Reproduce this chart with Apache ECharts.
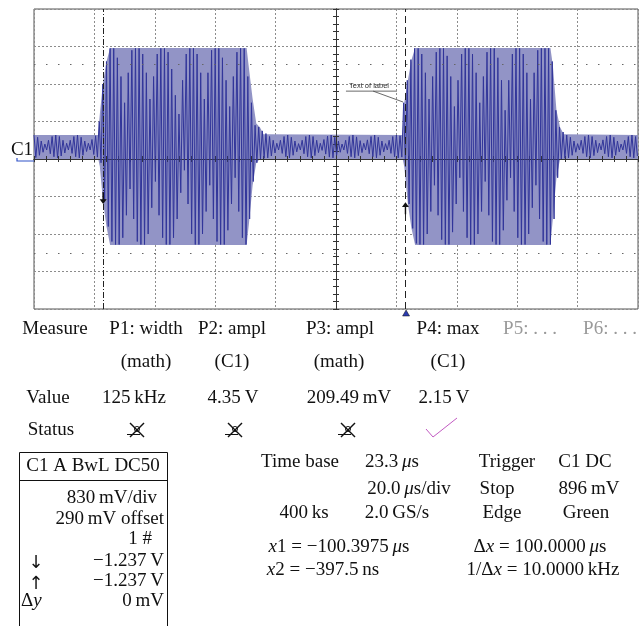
<!DOCTYPE html>
<html>
<head>
<meta charset="utf-8">
<script src="https://cdn.jsdelivr.net/npm/echarts@6/dist/echarts.min.js"></script>
<style>
html, body { margin: 0; padding: 0; background: #fff; }
#main { width: 639px; height: 626px; }
</style>
</head>
<body>
<div id="main"></div>
<script>
// time in µs (20 µs/div), amplitude in divisions
var startTime = -100;
var sampleStep = 0.6;   // half a carrier cycle

// peaks: top, bottom, top, bottom ... per carrier cycle
var quiet1 = [0.64,0.04, 0.58,0.1, 0.48,0.18, 0.4,0.24, 0.5,0.14, 0.6,0.06, 0.64,0.03, 0.6,0.08, 0.5,0.16,
    0.42,0.24, 0.5,0.15, 0.6,0.06, 0.64,0.03, 0.58,0.1, 0.48,0.2, 0.42,0.24, 0.52,0.12, 0.62,0.05];
var burst1 = [1.0,-0.1, 2.0,-1.1, 2.6,-1.8, 2.95,-2.2, 2.95,-2.28, 2.7,-2.28, 2.2,-2.1, 1.5,-1.5, 2.3,-0.8,
    2.9,-1.6, 2.95,-2.2, 2.95,-2.28, 2.8,-2.28, 2.3,-2.0, 1.6,-1.3, 2.2,-0.6, 2.8,-1.5, 2.95,-2.1, 2.95,-2.28,
    2.85,-2.28, 2.4,-2.1, 1.7,-1.6, 1.2,-0.9, 2.1,-0.3, 2.8,-1.2, 2.95,-2.0, 2.95,-2.28, 2.8,-2.28, 2.3,-2.0,
    1.6,-1.4, 2.3,-0.7, 2.9,-1.6, 2.95,-2.2, 2.95,-2.28, 2.7,-2.28, 2.1,-1.9, 1.4,-1.2, 2.2,-0.5, 2.85,-1.4,
    2.95,-2.1, 2.95,-2.28, 2.2,-1.6, 1.5,-0.6, 0.9,-0.1];
var quiet2 = [0.85,0.0, 0.75,0.02, 0.68,0.03, 0.6,0.08, 0.5,0.16, 0.42,0.24, 0.5,0.15, 0.6,0.06, 0.64,0.03,
    0.58,0.1, 0.48,0.19, 0.41,0.24, 0.5,0.14, 0.6,0.06, 0.64,0.03, 0.6,0.09, 0.5,0.17, 0.42,0.23, 0.52,0.13,
    0.61,0.05, 0.64,0.03, 0.58,0.1, 0.48,0.18, 0.4,0.24, 0.5,0.15, 0.6,0.06, 0.64,0.03, 0.59,0.09, 0.49,0.17,
    0.42,0.24, 0.51,0.14, 0.6,0.06, 0.64,0.03, 0.58,0.1, 0.48,0.19, 0.41,0.24, 0.5,0.15, 0.6,0.06, 0.64,0.03,
    0.62,0.05];
var burst2 = [1.5,-0.2, 2.1,-1.2, 2.65,-1.85, 2.95,-2.25, 2.95,-2.28, 2.8,-2.28, 2.3,-2.0, 1.6,-1.4, 2.2,-0.7,
    2.85,-1.5, 2.95,-2.15, 2.95,-2.28, 2.75,-2.28, 2.2,-1.95, 1.4,-1.2, 2.1,-0.5, 2.8,-1.4, 2.95,-2.1, 2.95,-2.28,
    2.8,-2.28, 2.3,-2.0, 1.5,-1.4, 2.2,-0.6, 2.85,-1.5, 2.95,-2.2, 2.95,-2.28, 2.7,-2.28, 2.1,-1.9, 1.3,-1.1,
    2.1,-0.5, 2.8,-1.4, 2.95,-2.1, 2.95,-2.28, 2.8,-2.28, 2.3,-2.0, 1.6,-1.3, 2.3,-0.7, 2.9,-1.6, 2.95,-2.2,
    2.95,-2.28, 2.95,-2.28, 2.6,-1.6, 1.3,-0.5];
var quiet3 = [0.85,0.0, 0.72,0.02, 0.64,0.03, 0.58,0.1, 0.48,0.18, 0.41,0.24, 0.5,0.15, 0.6,0.06, 0.64,0.03,
    0.6,0.09, 0.5,0.17, 0.42,0.24, 0.51,0.14, 0.6,0.06, 0.64,0.03, 0.58,0.1, 0.48,0.19, 0.4,0.24, 0.5,0.15,
    0.6,0.06, 0.64,0.03, 0.6,0.08];

// outer envelope of the trace (the light filled band)
var envTime = [-100, -78.8, -78.2, -77.2, -76.0, -74.8, -29.6, -28.8, -27.6, -26.4, -25.2, -24.0,
    22.0, 22.6, 23.8, 25.0, 26.2, 71.0, 71.8, 73.0, 74.2, 75.4, 100];
var envTop = [0.64, 0.64, 1.2, 2.0, 2.6, 2.96, 2.96, 2.4, 1.6, 0.95, 0.85, 0.66,
    0.64, 1.5, 2.1, 2.65, 2.96, 2.96, 2.5, 1.3, 0.85, 0.66, 0.64];
var envBottom = [0.03, 0.03, -0.2, -1.1, -1.8, -2.29, -2.29, -1.7, -0.7, -0.1, 0.0, 0.03,
    0.03, -0.2, -1.2, -1.85, -2.29, -2.29, -1.6, -0.5, 0.0, 0.03, 0.03];

// cursors and levels
var cursorTimes = [-77.1, 23.0];
var cursorLevels = [-1.04, -1.31];
var levelLines = [2.53, -2.51];
var triggerTime = 23.2;

// readout texts
var measureHead = ['Measure', 'P1: width', 'P2: ampl', 'P3: ampl', 'P4: max', 'P5: . . .', 'P6: . . .'];
var measureSrc = ['(math)', '(C1)', '(math)', '(C1)'];
var measureVal = ['Value', '125\u2009kHz', '4.35\u2009V', '209.49\u2009mV', '2.15\u2009V'];
var channelLines = ['830\u2009mV/div', '290\u2009mV offset', '1 #', '\u22121.237\u2009V', '\u22121.237\u2009V', '0\u2009mV'];

var peaks = [].concat(quiet1, burst1, quiet2, burst2, quiet3);
var wave = peaks.map(function (v, i) { return [startTime + i * sampleStep, v]; });
var bandTop = envTime.map(function (t, i) { return [t, envTop[i]]; });
var bandBottom = envTime.map(function (t, i) { return [t, envBottom[i]]; });

var chart = echarts.init(document.getElementById('main'));

var tickColor = '#333';
function xAx(idx, pos) {
    return {
        type: 'value', min: -100, max: 100, interval: 20, position: pos, z: 3,
        axisLine: { show: true, onZero: true, onZeroAxisIndex: idx, lineStyle: { color: tickColor, width: 1 } },
        axisTick: { show: true, inside: false, length: 3, lineStyle: { color: tickColor } },
        minorTick: { show: true, splitNumber: 5, length: 3, lineStyle: { color: tickColor } },
        axisLabel: { show: false },
        splitLine: { show: idx === 0, lineStyle: { color: '#8c8c8c', type: [2, 2] } }
    };
}
function yAx(idx, pos) {
    return {
        type: 'value', min: -4, max: 4, interval: 1, position: pos, z: 3,
        axisLine: { show: true, onZero: true, onZeroAxisIndex: idx, lineStyle: { color: tickColor, width: 1 } },
        axisTick: { show: true, inside: false, length: 3, lineStyle: { color: tickColor } },
        minorTick: { show: true, splitNumber: 5, length: 3, lineStyle: { color: tickColor } },
        axisLabel: { show: false },
        splitLine: { show: idx === 0, lineStyle: { color: '#8c8c8c', type: [2, 2] } }
    };
}

var option = {
    animation: false,
    backgroundColor: '#fff',
    grid: { left: 34, top: 9, width: 604, height: 300, show: true, borderColor: '#555', borderWidth: 1 },
    xAxis: [xAx(0, 'bottom'), xAx(1, 'top')],
    yAxis: [yAx(0, 'left'), yAx(1, 'right')],
    series: [
        {
            type: 'line', data: bandTop, symbol: 'none', silent: true,
            lineStyle: { opacity: 0 }, areaStyle: { color: '#9294c6', opacity: 1 },
            markLine: {
                silent: true, symbol: ['none', 'none'], label: { show: false },
                lineStyle: { color: '#666', width: 1, type: [1.5, 10.5] },
                data: levelLines.map(function (v) { return { yAxis: v }; })
            }
        },
        {
            type: 'line', data: bandBottom, symbol: 'none', silent: true,
            lineStyle: { opacity: 0 }, areaStyle: { color: '#9294c6', opacity: 1 }
        },
        {
            type: 'line', data: wave, symbol: 'none', silent: true,
            lineStyle: { color: '#31359a', width: 1 },
            markLine: {
                silent: true, symbol: ['none', 'none'], label: { show: false },
                data: [
                    { xAxis: cursorTimes[0], lineStyle: { color: '#222', width: 1, type: [6, 2, 1, 2] } },
                    { xAxis: cursorTimes[1], lineStyle: { color: '#222', width: 1, type: [7, 4] } }
                ]
            },
            markPoint: {
                silent: true, label: { show: false },
                data: [
                    { coord: [cursorTimes[0], cursorLevels[0]], symbol: 'path://M4,0 L6,0 L6,9 L10,9 L5,15 L0,9 L4,9 Z',
                      symbolSize: [7, 12], itemStyle: { color: '#111' } },
                    { coord: [cursorTimes[1], cursorLevels[1]], symbol: 'path://M4,15 L6,15 L6,6 L10,6 L5,0 L0,6 L4,6 Z',
                      symbolSize: [7, 12], itemStyle: { color: '#111' } },
                    { coord: [triggerTime, -4], symbol: 'triangle', symbolSize: [7, 6], symbolOffset: [0, 4],
                      itemStyle: { color: '#2b3bb0', borderColor: '#111', borderWidth: 0.5 } }
                ]
            }
        }
    ]
};
chart.setOption(option);

// texts and annotations
var serif = '"Liberation Serif", "DejaVu Serif", serif';
var F = '19px ' + serif;
function txt(s, x, y, align, color, font) {
    return { type: 'text', silent: true, z: 10,
        style: { text: s, x: x, y: y, font: font || F, fill: color || '#111',
                 textAlign: align || 'center', textVerticalAlign: 'middle' } };
}
var g = [];

// C1 ground marker
g.push(txt('C1', 22, 150));
g.push({ type: 'polyline', silent: true, shape: { points: [[17, 158], [17, 161], [34, 161]] },
         style: { stroke: '#2f52c8', lineWidth: 1.2, fill: null } });

// "Text of label" annotation
var lp = chart.convertToPixel({ gridIndex: 0 }, [4.3, 1.95]);
var u0 = chart.convertToPixel({ gridIndex: 0 }, [3.3, 1.81]);
var u1 = chart.convertToPixel({ gridIndex: 0 }, [20.2, 1.81]);
var k0 = chart.convertToPixel({ gridIndex: 0 }, [12.3, 1.81]);
var k1 = chart.convertToPixel({ gridIndex: 0 }, [22.2, 1.52]);
g.push(txt('Text of label', lp[0], lp[1], 'left', '#333', '7.5px "Liberation Sans", sans-serif'));
g.push({ type: 'polyline', silent: true, shape: { points: [u0, u1] }, style: { stroke: '#444', lineWidth: 0.8, fill: null } });
g.push({ type: 'polyline', silent: true, shape: { points: [k0, k1] }, style: { stroke: '#444', lineWidth: 0.8, fill: null } });

// measurement table
var headX = [55, 146, 232, 340, 448, 530, 610];
measureHead.forEach(function (s, i) { g.push(txt(s, headX[i], 329, 'center', i >= 5 ? '#9a9a9a' : '#111')); });
var srcX = [146, 232, 339, 448];
measureSrc.forEach(function (s, i) { g.push(txt(s, srcX[i], 362)); });
var valX = [48, 134, 233, 349, 444];
measureVal.forEach(function (s, i) { g.push(txt(s, valX[i], 398)); });
g.push(txt('Status', 51, 430));
[137, 235, 348].forEach(function (x) {
    // crossed-out status mark
    g.push({ type: 'polyline', silent: true, z: 10, shape: { points: [[x - 7, 423], [x + 7, 437]] },
             style: { stroke: '#111', lineWidth: 1.4, fill: null } });
    g.push({ type: 'polyline', silent: true, z: 10, shape: { points: [[x + 7, 423], [x - 7, 437]] },
             style: { stroke: '#111', lineWidth: 1.4, fill: null } });
    g.push({ type: 'line', silent: true, z: 10, shape: { x1: x - 10, y1: 434.5, x2: x + 3, y2: 434.5 },
             style: { stroke: '#111', lineWidth: 1 } });
    g.push({ type: 'circle', silent: true, z: 10, shape: { cx: x, cy: 429, r: 2.6 },
             style: { stroke: '#111', lineWidth: 0.9, fill: null } });
});
g.push({ type: 'polyline', silent: true, shape: { points: [[426, 429], [433, 437], [457, 418]] },
         style: { stroke: '#c25ac2', lineWidth: 1, fill: null } });

// channel box
g.push({ type: 'rect', silent: true, shape: { x: 19.5, y: 452.5, width: 148, height: 200 },
         style: { stroke: '#111', lineWidth: 1, fill: null } });
g.push({ type: 'line', silent: true, shape: { x1: 19.5, y1: 480.5, x2: 167.5, y2: 480.5 },
         style: { stroke: '#111', lineWidth: 1 } });
g.push(txt('C1 A BwL DC50', 93, 466));
var chY = [498, 519, 539, 561, 581, 601];
var chR = [157, 164, 152, 164, 164, 164];
channelLines.forEach(function (s, i) { g.push(txt(s, chR[i], chY[i], 'right')); });
g.push(txt('\u2193', 36, 563, 'center', '#111', '18px "DejaVu Sans", sans-serif'));
g.push(txt('\u2191', 36, 584, 'center', '#111', '18px "DejaVu Sans", sans-serif'));
g.push(txt('\u0394{i|y}', 21, 601, 'left'));

// timebase / trigger block
g.push(txt('Time base', 300, 462));
g.push(txt('23.3\u2009{i|\u03bc}s', 392, 462));
g.push(txt('Trigger', 507, 462));
g.push(txt('C1 DC', 585, 462));
g.push(txt('20.0\u2009{i|\u03bc}s/div', 409, 489));
g.push(txt('Stop', 497, 489));
g.push(txt('896\u2009mV', 589, 489));
g.push(txt('400\u2009ks', 304, 513));
g.push(txt('2.0\u2009GS/s', 397, 513));
g.push(txt('Edge', 502, 513));
g.push(txt('Green', 586, 513));
g.push(txt('{i|x}1 = \u2212100.3975\u2009{i|\u03bc}s', 339, 547));
g.push(txt('\u0394{i|x} = 100.0000\u2009{i|\u03bc}s', 540, 547));
g.push(txt('{i|x}2 = \u2212397.5\u2009ns', 323, 570));
g.push(txt('1/\u0394{i|x} = 10.0000\u2009kHz', 543, 570));

g.forEach(function (el) {
    if (el.type === 'text') {
        el.style.rich = { i: { font: 'italic ' + (el.style.font || F), fill: el.style.fill } };
    }
});

chart.setOption({ graphic: g });
</script>
</body>
</html>
